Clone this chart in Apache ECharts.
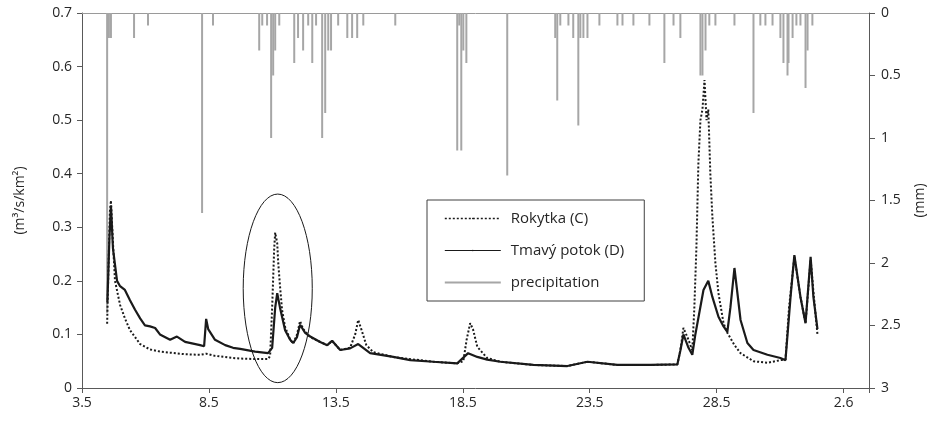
<!DOCTYPE html>
<html>
<head>
<meta charset="utf-8">
<script src="https://cdn.jsdelivr.net/npm/echarts@6/dist/echarts.min.js"></script>
<style>
  html, body { margin: 0; padding: 0; background: #fff; }
  #chart { width: 939px; height: 422px; }
</style>
</head>
<body>
<div id="chart"></div>
<script>
  // x = days since 3 May
  var rokytka = [
    [0.99, 0.12], [1.04, 0.22], [1.10, 0.33], [1.14, 0.35], [1.22, 0.27], [1.30, 0.20],
    [1.50, 0.155], [1.69, 0.13], [1.89, 0.108], [2.09, 0.095], [2.29, 0.082], [2.68, 0.072],
    [3.07, 0.068], [3.47, 0.066], [4.06, 0.063], [4.65, 0.062], [4.89, 0.064], [5.24, 0.06],
    [5.95, 0.056], [6.23, 0.055], [6.82, 0.054], [7.33, 0.054], [7.41, 0.06], [7.49, 0.15],
    [7.57, 0.26], [7.61, 0.29], [7.69, 0.27], [7.73, 0.233], [7.80, 0.19], [7.88, 0.146],
    [8.00, 0.114], [8.20, 0.09], [8.32, 0.083], [8.47, 0.1], [8.59, 0.125], [8.71, 0.11],
    [8.99, 0.095], [9.38, 0.086], [9.66, 0.08], [9.85, 0.088], [10.17, 0.071], [10.56, 0.075],
    [10.76, 0.1], [10.88, 0.127], [11.0, 0.11], [11.2, 0.08], [11.47, 0.067], [12.26, 0.058],
    [12.93, 0.054], [13.84, 0.049], [14.78, 0.046], [15.02, 0.05], [15.15, 0.09], [15.29, 0.121],
    [15.40, 0.11], [15.57, 0.077], [15.96, 0.056], [16.48, 0.049], [17.78, 0.043], [19.12, 0.041],
    [19.91, 0.049], [21.09, 0.043], [22.39, 0.043], [23.45, 0.044], [23.57, 0.07], [23.69, 0.112],
    [23.89, 0.09], [24.04, 0.07], [24.12, 0.15], [24.20, 0.26], [24.28, 0.42], [24.36, 0.5],
    [24.44, 0.52], [24.52, 0.575], [24.60, 0.5], [24.67, 0.52], [24.75, 0.4], [24.83, 0.32],
    [24.95, 0.233], [25.07, 0.177], [25.27, 0.121], [25.42, 0.103], [25.70, 0.08], [25.94, 0.065],
    [26.45, 0.05], [27.0, 0.047], [27.51, 0.052], [27.71, 0.053], [27.85, 0.15], [28.06, 0.245],
    [28.30, 0.17], [28.50, 0.121], [28.70, 0.24], [28.81, 0.18], [28.97, 0.1]
  ];
  var tmavy = [
    [1.0, 0.16], [1.08, 0.28], [1.14, 0.34], [1.22, 0.26], [1.38, 0.2], [1.50, 0.19],
    [1.69, 0.183], [1.89, 0.164], [2.09, 0.146], [2.29, 0.13], [2.48, 0.117], [2.68, 0.115],
    [2.88, 0.112], [3.07, 0.1], [3.47, 0.09], [3.74, 0.096], [4.06, 0.086], [4.65, 0.08],
    [4.81, 0.078], [4.89, 0.129], [4.97, 0.11], [5.24, 0.09], [5.64, 0.08], [5.95, 0.075],
    [6.23, 0.073], [6.82, 0.068], [7.33, 0.065], [7.49, 0.075], [7.61, 0.15], [7.69, 0.177],
    [7.80, 0.15], [7.88, 0.133], [8.00, 0.108], [8.20, 0.09], [8.32, 0.084], [8.47, 0.095],
    [8.59, 0.118], [8.79, 0.103], [8.99, 0.096], [9.38, 0.086], [9.66, 0.08], [9.85, 0.088],
    [10.17, 0.071], [10.56, 0.074], [10.88, 0.082], [11.35, 0.065], [12.26, 0.058], [12.93, 0.052],
    [13.84, 0.049], [14.78, 0.046], [15.21, 0.065], [15.57, 0.058], [15.96, 0.053], [16.48, 0.049],
    [17.78, 0.043], [19.12, 0.041], [19.91, 0.049], [21.09, 0.043], [22.39, 0.043], [23.45, 0.044],
    [23.57, 0.07], [23.69, 0.1], [23.89, 0.075], [24.04, 0.062], [24.16, 0.1], [24.48, 0.183],
    [24.67, 0.2], [24.83, 0.17], [25.07, 0.133], [25.27, 0.115], [25.42, 0.105], [25.54, 0.15],
    [25.70, 0.224], [25.94, 0.127], [26.21, 0.084], [26.45, 0.071], [27.0, 0.062], [27.51, 0.056],
    [27.71, 0.052], [27.91, 0.17], [28.06, 0.248], [28.30, 0.17], [28.50, 0.121], [28.70, 0.245],
    [28.81, 0.17], [28.97, 0.11]
  ];
  // precipitation (mm), hanging from the top
  var precip = [
    [0.99, 2.4], [1.06, 0.2], [1.14, 0.2], [2.05, 0.2], [2.60, 0.1], [4.73, 1.6], [5.16, 0.1],
    [6.98, 0.3], [7.10, 0.1], [7.29, 0.1], [7.45, 1.0], [7.53, 0.5], [7.61, 0.3], [7.77, 0.1],
    [8.36, 0.4], [8.51, 0.2], [8.71, 0.3], [8.91, 0.1], [9.07, 0.4], [9.22, 0.1], [9.46, 1.0],
    [9.58, 0.8], [9.70, 0.3], [9.81, 0.3], [10.09, 0.1], [10.45, 0.2], [10.64, 0.2], [10.84, 0.2],
    [11.08, 0.1], [12.34, 0.1], [14.78, 1.1], [14.86, 0.1], [14.94, 1.1], [15.02, 0.3], [15.14, 0.4],
    [16.75, 1.3], [18.64, 0.2], [18.72, 0.7], [18.84, 0.1], [19.16, 0.1], [19.35, 0.2], [19.55, 0.9],
    [19.63, 0.2], [19.75, 0.2], [19.91, 0.2], [20.38, 0.1], [21.09, 0.1], [21.29, 0.1], [21.72, 0.1],
    [22.35, 0.1], [22.94, 0.4], [23.30, 0.1], [23.57, 0.2], [24.36, 0.5], [24.44, 0.5], [24.56, 0.3],
    [24.71, 0.1], [24.95, 0.1], [25.70, 0.1], [26.45, 0.8], [26.72, 0.1], [26.92, 0.1], [27.20, 0.1],
    [27.51, 0.2], [27.63, 0.4], [27.79, 0.5], [27.83, 0.4], [27.99, 0.2], [28.14, 0.1], [28.30, 0.1],
    [28.50, 0.6], [28.58, 0.3], [28.77, 0.1]
  ];
  var seriesNames = ['Rokytka (C)', 'Tmavý potok (D)', 'precipitation'];

  function dayLabel(v) {
    if (v % 5 !== 0) return '';
    var d = v + 3;
    return d <= 31 ? d + '.5' : (d - 31) + '.6';
  }

  var axisColor = '#595959';
  var textColor = '#262626';
  var font = 'Open Sans';

  var chart = echarts.init(document.getElementById('chart'));
  chart.setOption({
    animation: false,
    backgroundColor: '#fff',
    textStyle: { fontFamily: font },
    grid: { left: 82, right: 70, top: 13, bottom: 34 },
    legend: {
      orient: 'vertical',
      left: 427,
      top: 200,
      padding: [11, 20, 11, 17],
      itemGap: 17,
      itemWidth: 56,
      itemHeight: 2,
      borderColor: '#404040',
      borderWidth: 1,
      textStyle: { fontFamily: font, fontSize: 15, color: textColor, padding: [0, 0, 0, 5] },
      data: [
        { name: seriesNames[0], lineStyle: { width: 1.6 } },
        { name: seriesNames[1], lineStyle: { width: 1.2 } },
        { name: seriesNames[2], icon: 'rect' }
      ]
    },
    xAxis: [
      {
        type: 'value',
        min: 0,
        max: 31,
        interval: 5,
        axisLine: { onZero: false, lineStyle: { color: axisColor } },
        axisTick: { length: 5, lineStyle: { color: axisColor } },
        axisLabel: { formatter: dayLabel, color: textColor, fontSize: 14, margin: 8, fontFamily: font },
        splitLine: { show: false }
      },
      {
        type: 'value',
        position: 'top',
        min: 0,
        max: 31,
        axisLine: { onZero: false, lineStyle: { color: '#9a9a9a' } },
        axisTick: { show: false },
        axisLabel: { show: false },
        splitLine: { show: false }
      }
    ],
    yAxis: [
      {
        type: 'value',
        min: 0,
        max: 0.7,
        interval: 0.1,
        name: '(m³/s/km²)',
        nameLocation: 'middle',
        nameRotate: 90,
        nameGap: 55,
        nameTextStyle: { color: textColor, fontSize: 14, fontFamily: font },
        axisLine: { show: true, onZero: false, lineStyle: { color: axisColor } },
        axisTick: { show: true, length: 5, lineStyle: { color: axisColor } },
        axisLabel: { color: textColor, fontSize: 14, margin: 10, fontFamily: font,
          formatter: function (v) { return String(+v.toFixed(1)); } },
        splitLine: { show: false }
      },
      {
        type: 'value',
        min: 0,
        max: 3,
        interval: 0.5,
        inverse: true,
        position: 'right',
        name: '(mm)',
        nameLocation: 'middle',
        nameRotate: 90,
        nameGap: 44,
        nameTextStyle: { color: textColor, fontSize: 14, fontFamily: font },
        axisLine: { show: true, onZero: false, lineStyle: { color: axisColor } },
        axisTick: { show: true, length: 6, lineStyle: { color: axisColor } },
        axisLabel: { color: textColor, fontSize: 14, margin: 12, fontFamily: font },
        splitLine: { show: false }
      }
    ],
    series: [
      {
        name: seriesNames[2],
        type: 'bar',
        xAxisIndex: 0,
        yAxisIndex: 1,
        barWidth: 2,
        itemStyle: { color: '#a6a6a6' },
        data: precip,
        z: 1
      },
      {
        name: seriesNames[1],
        type: 'line',
        yAxisIndex: 0,
        symbol: 'none',
        lineStyle: { color: '#1a1a1a', width: 2.2 },
        itemStyle: { color: '#1a1a1a' },
        data: tmavy,
        z: 3
      },
      {
        name: seriesNames[0],
        type: 'line',
        yAxisIndex: 0,
        symbol: 'none',
        lineStyle: { color: '#1a1a1a', width: 2, type: [2, 2] },
        itemStyle: { color: '#1a1a1a' },
        data: rokytka,
        z: 4
      }
    ]
  });

  // ellipse around the event of 10-11 May
  var c = chart.convertToPixel({ xAxisIndex: 0, yAxisIndex: 0 }, [7.71, 0.186]);
  var e = chart.convertToPixel({ xAxisIndex: 0, yAxisIndex: 0 }, [7.71 + 1.36, 0.186 + 0.176]);
  chart.setOption({
    graphic: [{
      type: 'ellipse',
      shape: { cx: c[0], cy: c[1], rx: e[0] - c[0], ry: c[1] - e[1] },
      style: { fill: 'none', stroke: '#1a1a1a', lineWidth: 1 },
      z: 10
    }]
  });
</script>
</body>
</html>
